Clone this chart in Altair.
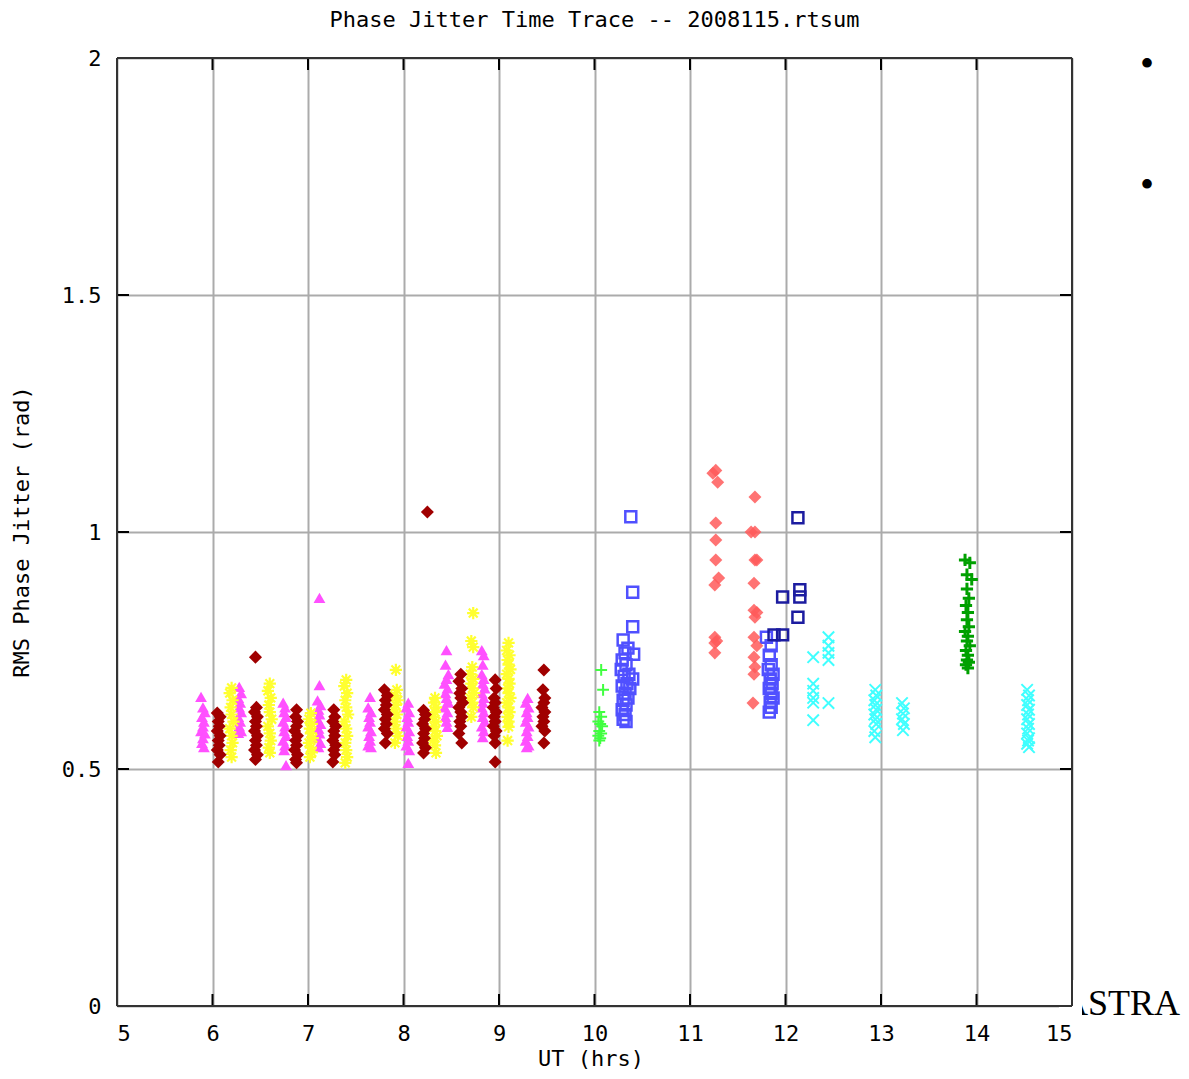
import altair as alt
import pandas as pd

# ---------------- data ----------------
mag_x = [5.88,5.9,5.92,5.89,5.91,5.9,5.88,5.92,5.9,5.89,5.91,
         6.28,6.3,6.27,6.29,6.28,6.3,6.27,6.29,6.28,6.3,6.27,
         6.74,6.76,6.75,6.77,6.74,6.76,6.75,6.77,6.74,6.76,6.75,6.77,
         7.12,7.12,7.1,7.13,7.11,7.12,7.1,7.13,7.11,7.12,7.1,7.13,7.11,
         7.65,7.63,7.66,7.64,7.65,7.63,7.66,7.64,7.65,7.63,7.66,
         8.05,8.03,8.06,8.04,8.05,8.03,8.06,8.04,8.05,8.03,8.06,8.05,
         8.45,8.44,8.47,8.45,8.43,8.46,8.44,8.45,8.47,8.43,8.46,8.44,8.45,8.46,
         8.82,8.84,8.83,8.82,8.84,8.83,8.85,8.82,8.84,8.83,8.82,8.84,8.83,8.85,8.82,8.84,8.83,
         9.3,9.28,9.31,9.29,9.3,9.28,9.31,9.29,9.3,9.28,9.31,9.29]
mag_y = [0.652,0.63,0.62,0.61,0.6,0.59,0.58,0.575,0.565,0.555,0.546,
         0.673,0.66,0.65,0.64,0.63,0.62,0.61,0.6,0.59,0.58,0.576,
         0.64,0.63,0.62,0.61,0.6,0.59,0.58,0.57,0.56,0.55,0.54,0.508,
         0.861,0.677,0.645,0.635,0.625,0.615,0.605,0.595,0.585,0.575,0.565,0.555,0.546,
         0.652,0.63,0.62,0.61,0.6,0.59,0.58,0.57,0.56,0.55,0.546,
         0.64,0.63,0.62,0.61,0.6,0.59,0.58,0.57,0.56,0.55,0.54,0.513,
         0.751,0.72,0.7,0.69,0.68,0.67,0.66,0.65,0.64,0.63,0.62,0.61,0.6,0.589,
         0.751,0.74,0.72,0.7,0.69,0.68,0.67,0.66,0.65,0.64,0.63,0.62,0.61,0.6,0.59,0.58,0.567,
         0.65,0.64,0.63,0.62,0.61,0.6,0.59,0.58,0.57,0.56,0.55,0.546]

dred_x = [6.05,6.08,6.06,6.07,6.05,6.08,6.06,6.07,6.05,6.08,6.06,
          6.45,6.46,6.44,6.47,6.45,6.46,6.44,6.47,6.45,6.46,6.44,6.47,6.45,
          6.88,6.87,6.89,6.88,6.86,6.89,6.87,6.88,6.86,6.89,6.87,6.88,
          7.27,7.28,7.26,7.29,7.27,7.28,7.26,7.29,7.27,7.28,7.26,
          7.8,7.83,7.81,7.82,7.8,7.83,7.81,7.82,7.8,7.83,7.81,
          8.25,8.21,8.23,8.22,8.2,8.23,8.21,8.22,8.2,8.23,8.21,
          8.6,8.58,8.61,8.59,8.6,8.62,8.58,8.6,8.61,8.59,8.6,8.58,8.61,
          8.96,8.97,8.95,8.96,8.94,8.97,8.95,8.96,8.94,8.97,8.95,8.96,8.96,
          9.47,9.46,9.48,9.47,9.45,9.48,9.46,9.47,9.45,9.48,9.47]
dred_y = [0.618,0.61,0.6,0.59,0.58,0.57,0.56,0.55,0.54,0.53,0.515,
          0.736,0.63,0.62,0.61,0.6,0.59,0.58,0.57,0.56,0.55,0.54,0.53,0.52,
          0.625,0.61,0.6,0.59,0.58,0.57,0.56,0.55,0.54,0.53,0.52,0.513,
          0.625,0.61,0.6,0.59,0.58,0.57,0.56,0.55,0.54,0.53,0.515,
          0.667,0.655,0.645,0.635,0.625,0.615,0.605,0.595,0.585,0.575,0.555,
          1.042,0.624,0.615,0.605,0.595,0.585,0.575,0.565,0.555,0.545,0.534,
          0.7,0.685,0.67,0.66,0.65,0.64,0.63,0.62,0.61,0.6,0.59,0.575,0.555,
          0.688,0.67,0.65,0.64,0.63,0.62,0.61,0.6,0.59,0.58,0.57,0.555,0.515,
          0.709,0.667,0.65,0.64,0.63,0.62,0.61,0.6,0.59,0.58,0.555]

yel_x = [6.2,6.18,6.21,6.19,6.2,6.22,6.18,6.2,6.21,6.19,6.2,
         6.6,6.58,6.61,6.59,6.6,6.62,6.58,6.6,6.61,6.59,6.6,
         7.03,7.01,7.04,7.02,7.03,7.05,7.01,7.03,7.04,7.02,
         7.4,7.38,7.41,7.39,7.4,7.42,7.38,7.4,7.41,7.39,7.4,7.41,7.39,
         7.92,7.93,7.91,7.94,7.92,7.9,7.93,7.91,7.92,7.94,7.91,
         8.33,8.32,8.34,8.33,8.31,8.34,8.32,8.33,8.35,8.31,8.33,8.34,
         8.73,8.71,8.73,8.72,8.7,8.73,8.71,8.72,8.74,8.7,8.72,8.73,8.71,
         9.1,9.08,9.11,9.09,9.1,9.12,9.08,9.1,9.11,9.09,9.1,9.12,9.08,9.1,9.11,9.09,9.1,9.1,9.09]
yel_y = [0.671,0.66,0.645,0.63,0.615,0.6,0.585,0.57,0.555,0.54,0.525,
         0.68,0.665,0.65,0.635,0.62,0.605,0.59,0.575,0.56,0.545,0.534,
         0.618,0.605,0.595,0.585,0.575,0.565,0.555,0.545,0.535,0.525,
         0.688,0.675,0.66,0.645,0.63,0.615,0.6,0.585,0.57,0.555,0.54,0.525,0.513,
         0.709,0.667,0.655,0.645,0.635,0.625,0.615,0.6,0.585,0.57,0.555,
         0.65,0.64,0.63,0.62,0.61,0.6,0.59,0.58,0.57,0.56,0.55,0.534,
         0.829,0.77,0.757,0.715,0.7,0.69,0.68,0.67,0.66,0.65,0.64,0.63,0.61,
         0.766,0.75,0.74,0.73,0.72,0.71,0.7,0.69,0.68,0.67,0.66,0.65,0.64,0.63,0.62,0.61,0.6,0.589,0.56]

lgrn_x = [10.07,10.09,10.05,10.07,10.04,10.06,10.08,10.05,10.07,10.04,10.06,10.05]
lgrn_y = [0.709,0.667,0.62,0.61,0.6,0.595,0.59,0.58,0.575,0.57,0.565,0.56]

blue_x = [10.38,10.4,10.4,10.3,10.35,10.32,10.41,10.29,10.33,10.28,10.36,10.31,10.4,10.34,
          10.29,10.37,10.32,10.35,10.3,10.33,10.29,10.32,10.3,10.33,
          11.8,11.85,11.83,11.85,11.82,11.87,11.84,11.86,11.83,11.85,11.87,11.84,11.85,11.83]
blue_y = [1.032,0.873,0.8,0.772,0.755,0.745,0.742,0.73,0.72,0.71,0.7,0.695,0.69,0.68,
          0.675,0.67,0.66,0.65,0.645,0.635,0.625,0.615,0.605,0.6,
          0.778,0.76,0.74,0.72,0.71,0.7,0.69,0.68,0.67,0.66,0.65,0.64,0.63,0.62]

salm_x = [11.24,11.27,11.29,11.68,11.27,11.64,11.68,11.27,11.27,11.68,11.7,11.3,11.26,11.67,
          11.67,11.7,11.68,11.26,11.28,11.26,11.26,11.67,11.7,11.67,11.68,11.67,11.66]
salm_y = [1.124,1.13,1.105,1.074,1.019,1.0,1.0,0.983,0.941,0.941,0.941,0.903,0.888,0.892,
          0.835,0.83,0.82,0.778,0.77,0.766,0.745,0.778,0.76,0.736,0.715,0.7,0.639]

navy_x = [12.13,12.15,12.15,11.97,12.13,11.97,11.88]
navy_y = [1.03,0.878,0.863,0.863,0.82,0.783,0.783]

cyan_x = [12.29,12.29,12.29,12.29,12.29,12.29,12.45,12.45,12.45,12.45,12.45,
          12.94,12.95,12.93,12.94,12.95,12.93,12.94,12.95,12.93,12.94,
          13.22,13.24,13.23,13.22,13.24,13.23,
          14.53,14.55,14.54,14.53,14.55,14.54,14.53,14.55,14.54,14.53,14.55,14.54,14.53,14.55]
cyan_y = [0.736,0.68,0.665,0.65,0.64,0.603,0.778,0.76,0.745,0.73,0.639,
          0.667,0.655,0.645,0.635,0.625,0.615,0.605,0.595,0.58,0.567,
          0.639,0.628,0.617,0.605,0.595,0.582,
          0.667,0.655,0.645,0.635,0.625,0.615,0.605,0.595,0.585,0.575,0.565,0.56,0.553,0.546]

dgrn_x = [13.88,13.93,13.9,13.95,13.9,13.92,13.89,13.91,13.9,13.92,13.88,13.91,13.9,13.93,
          13.89,13.91,13.9,13.92,13.89,13.91]
dgrn_y = [0.941,0.935,0.91,0.9,0.88,0.86,0.845,0.83,0.815,0.8,0.79,0.78,0.77,0.76,
          0.75,0.74,0.73,0.725,0.72,0.713]

x_ticks = [5, 6, 7, 8, 9, 10, 11, 12, 13, 14, 15]
y_ticks = [0, 0.5, 1, 1.5, 2]

title_text = "Phase Jitter Time Trace -- 2008115.rtsum"
x_title = "UT (hrs)"
y_title = "RMS Phase Jitter (rad)"

# ---------------- chart ----------------
W, H = 955, 948
MONO = "DejaVu Sans Mono"

xsc = alt.Scale(domain=[5, 15], nice=False, zero=False)
ysc = alt.Scale(domain=[0, 2], nice=False, zero=False)
xax = alt.Axis(values=x_ticks, title=None, grid=True, gridColor="#ababab", gridWidth=2,
               ticks=False, tickSize=0, domain=False, labelFont=MONO, labelFontSize=22,
               labelColor="#000000", labelPadding=17, labelAngle=0, format="d")
yax = alt.Axis(values=y_ticks, title=None, grid=True, gridColor="#ababab", gridWidth=2,
               ticks=False, tickSize=0, domain=False, labelFont=MONO, labelFontSize=22,
               labelColor="#000000", labelPadding=16, format="~g")

X = alt.X("x:Q", scale=xsc, axis=xax)
Y = alt.Y("y:Q", scale=ysc, axis=yax)


def pts(xs, ys):
    return pd.DataFrame({"x": xs, "y": ys})


STAR = "M0,-1L0,1M-1,0L1,0M-0.72,-0.72L0.72,0.72M-0.72,0.72L0.72,-0.72"
PLUS = "M0,-1L0,1M-1,0L1,0"
XSHAPE = "M-1,-1L1,1M-1,1L1,-1"

layers = []
layers.append(alt.Chart(pts(mag_x, mag_y)).mark_point(
    shape="triangle-up", filled=True, size=140, color="#ff50ff", opacity=1).encode(x=X, y=Y))
layers.append(alt.Chart(pts(yel_x, yel_y)).mark_point(
    shape=STAR, filled=False, size=150, color="#ffff30", strokeWidth=2.2, opacity=1).encode(x=X, y=Y))
layers.append(alt.Chart(pts(dred_x, dred_y)).mark_point(
    shape="diamond", filled=True, size=170, color="#a00000", opacity=1).encode(x=X, y=Y))
layers.append(alt.Chart(pts(lgrn_x, lgrn_y)).mark_point(
    shape=PLUS, filled=False, size=140, color="#40ff40", strokeWidth=2, opacity=1).encode(x=X, y=Y))
layers.append(alt.Chart(pts(blue_x, blue_y)).mark_point(
    shape="square", filled=False, size=120, color="#5050ff", strokeWidth=2.5, opacity=1).encode(x=X, y=Y))
layers.append(alt.Chart(pts(salm_x, salm_y)).mark_point(
    shape="diamond", filled=True, size=170, color="#ff5a5a", opacity=0.85).encode(x=X, y=Y))
layers.append(alt.Chart(pts(navy_x, navy_y)).mark_point(
    shape="square", filled=False, size=120, color="#1c1ca0", strokeWidth=2.5, opacity=1).encode(x=X, y=Y))
layers.append(alt.Chart(pts(cyan_x, cyan_y)).mark_point(
    shape=XSHAPE, filled=False, size=130, color="#40ffff", strokeWidth=2, opacity=1).encode(x=X, y=Y))
layers.append(alt.Chart(pts(dgrn_x, dgrn_y)).mark_point(
    shape=PLUS, filled=False, size=150, color="#00a000", strokeWidth=3, opacity=1).encode(x=X, y=Y))

# inward tick marks (gnuplot style)
xt = pd.DataFrame({"x": x_ticks})
yt = pd.DataFrame({"y": y_ticks})
TK = 12
layers.append(alt.Chart(xt).mark_rule(color="#000000", strokeWidth=2).encode(
    x=X, y=alt.value(0), y2=alt.value(TK)))
layers.append(alt.Chart(xt).mark_rule(color="#000000", strokeWidth=2).encode(
    x=X, y=alt.value(H), y2=alt.value(H - TK)))
layers.append(alt.Chart(yt).mark_rule(color="#000000", strokeWidth=2).encode(
    y=Y, x=alt.value(0), x2=alt.value(TK)))
layers.append(alt.Chart(yt).mark_rule(color="#000000", strokeWidth=2).encode(
    y=Y, x=alt.value(W), x2=alt.value(W - TK)))

# side text (slide residue)
one = pd.DataFrame({"t": ["ASTRA"]})
layers.append(alt.Chart(one).mark_text(
    font="Liberation Serif", fontSize=36, align="right", baseline="alphabetic", color="#000000"
).encode(text="t:N", x=alt.value(1063), y=alt.value(957)))
layers.append(alt.Chart(one).mark_rect(color="#ffffff").encode(
    x=alt.value(942), x2=alt.value(965), y=alt.value(922), y2=alt.value(963)))
bul = pd.DataFrame({"t": ["\u2022", "\u2022"], "py": [7, 128]})
layers.append(alt.Chart(bul).mark_text(
    font="Liberation Serif", fontSize=40, align="center", baseline="middle", color="#000000"
).encode(text="t:N", x=alt.value(1030), y=alt.Y("py:Q", scale=None)))

# frame
fr = pd.DataFrame({"a": [0]})
FC = "#333333"
layers.append(alt.Chart(fr).mark_rule(color=FC, strokeWidth=2).encode(
    x=alt.value(0), x2=alt.value(W), y=alt.value(0)))
layers.append(alt.Chart(fr).mark_rule(color=FC, strokeWidth=2).encode(
    x=alt.value(0), x2=alt.value(W), y=alt.value(H)))
layers.append(alt.Chart(fr).mark_rule(color=FC, strokeWidth=2).encode(
    y=alt.value(0), y2=alt.value(H), x=alt.value(0)))
layers.append(alt.Chart(fr).mark_rule(color=FC, strokeWidth=2).encode(
    y=alt.value(0), y2=alt.value(H), x=alt.value(W)))

# titles
tt = pd.DataFrame({"t": [title_text]})
layers.append(alt.Chart(tt).mark_text(
    font=MONO, fontSize=22, align="center", baseline="middle", color="#000000"
).encode(text="t:N", x=alt.value(W / 2), y=alt.value(-38)))
xtt = pd.DataFrame({"t": [x_title]})
layers.append(alt.Chart(xtt).mark_text(
    font=MONO, fontSize=22, align="center", baseline="middle", color="#000000"
).encode(text="t:N", x=alt.value(474), y=alt.value(1001)))
ytt = pd.DataFrame({"t": [y_title]})
layers.append(alt.Chart(ytt).mark_text(
    font=MONO, fontSize=22, align="center", baseline="middle", angle=270, color="#000000"
).encode(text="t:N", x=alt.value(-95), y=alt.value(H / 2)))

chart = alt.layer(*layers).properties(
    width=W, height=H,
    autosize=alt.AutoSizeParams(type="none"),
    padding={"left": 109, "top": 50, "right": 109, "bottom": 64},
    background="#ffffff",
).configure_view(stroke=None)

chart.save("out.html", embed_options={"renderer": "svg", "actions": False})
